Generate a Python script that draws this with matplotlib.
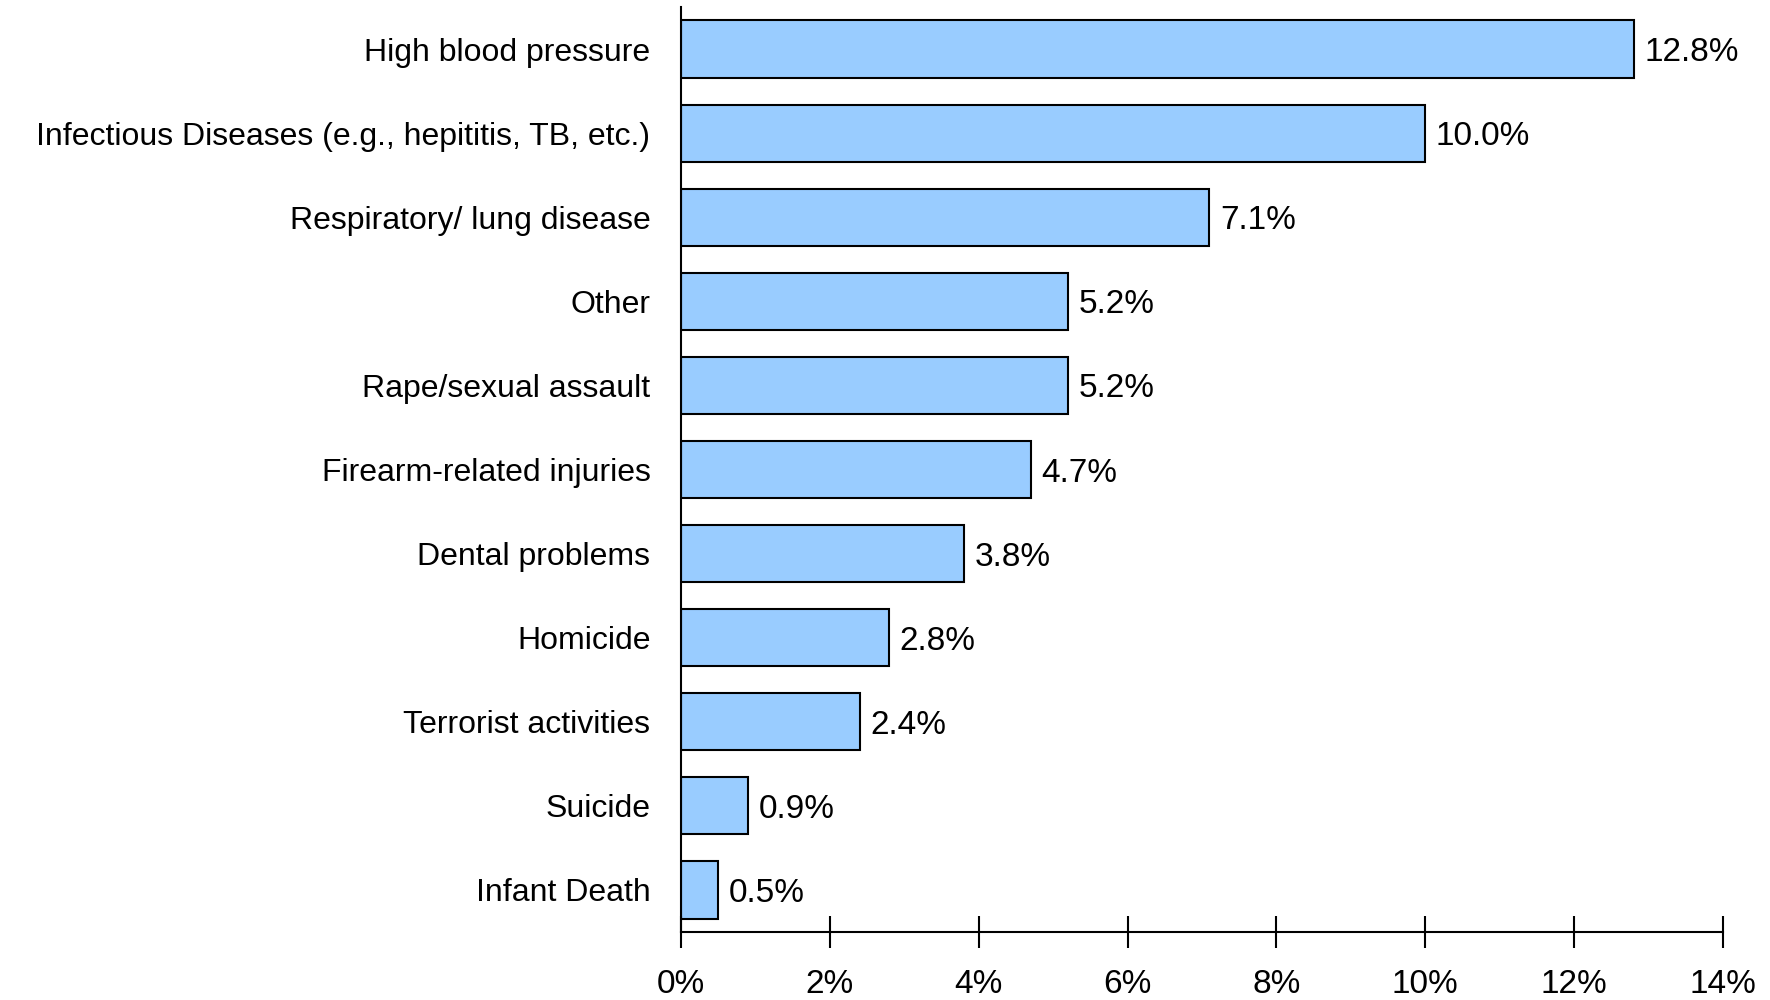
import matplotlib.pyplot as plt
from matplotlib.ticker import FuncFormatter

plt.rcParams['font.family'] = ['Liberation Sans', 'DejaVu Sans']

# categories, top to bottom
categories = ['High blood pressure',
              'Infectious Diseases (e.g., hepititis, TB, etc.)',
              'Respiratory/ lung disease',
              'Other',
              'Rape/sexual assault',
              'Firearm-related injuries',
              'Dental problems',
              'Homicide',
              'Terrorist activities',
              'Suicide',
              'Infant Death']
values = [12.8, 10.0, 7.1, 5.2, 5.2, 4.7, 3.8, 2.8, 2.4, 0.9, 0.5]
xticks = [0, 2, 4, 6, 8, 10, 12, 14]

fig = plt.figure(figsize=(17.7, 10), dpi=100)
ax = fig.add_axes([681/1770, 1 - 932/1000, (1723-681)/1770, (932-7)/1000])

pos = list(range(len(categories)))
ax.barh(pos, values, height=0.68, color='#99CCFF', edgecolor='black', linewidth=1.5)

# value labels
for p, v in zip(pos, values):
    ax.text(v + 0.14, p, f'{v:.1f}%', va='center_baseline', ha='left', fontsize=24)

ax.set_ylim(len(categories) - 0.5, -0.5)
ax.set_xlim(0, 14)
ax.set_yticks(pos)
ax.set_yticklabels(categories, fontsize=23)
ax.set_xticks(xticks)
ax.xaxis.set_major_formatter(FuncFormatter(lambda x, _: f'{x:.0f}%'))
ax.tick_params(axis='y', length=0, pad=22)
ax.tick_params(axis='x', direction='inout', length=23, width=1.5, labelsize=24, pad=15)

for s in ['top', 'right']:
    ax.spines[s].set_visible(False)
ax.spines['left'].set_linewidth(1.5)
ax.spines['bottom'].set_linewidth(1.5)

fig.savefig('out.png', dpi=100)
